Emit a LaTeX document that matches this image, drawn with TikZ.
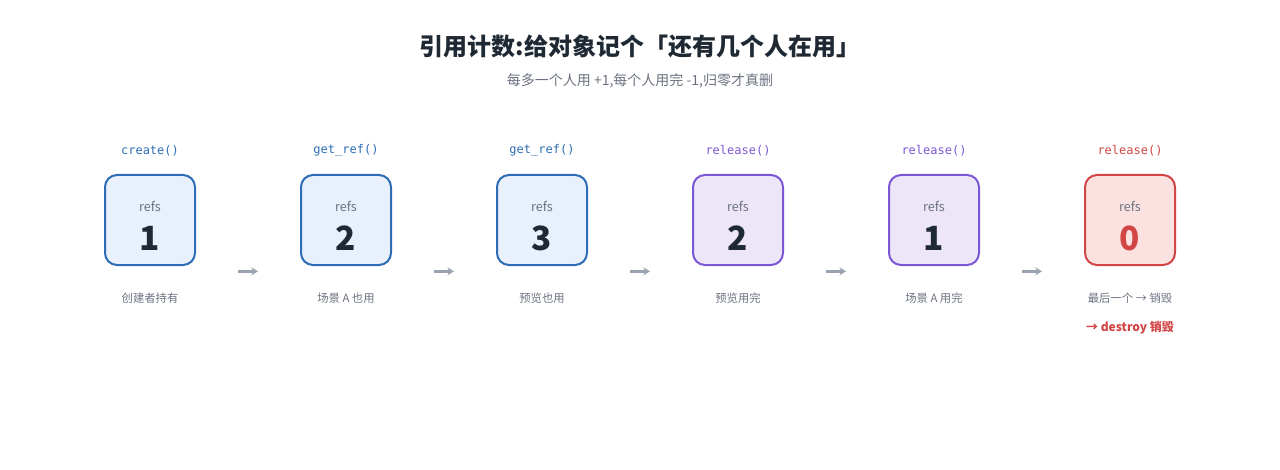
\documentclass[tikz,border=0pt]{standalone}
\usepackage{fontspec}
\setmainfont{Noto Sans CJK SC}
\setmonofont{DejaVu Sans Mono}
\usepackage{tikz}
\usetikzlibrary{arrows.meta, positioning, calc}
\definecolor{InkDark}{HTML}{1F2933}
\definecolor{InkGray}{HTML}{6B7280}
\definecolor{ArrowGray}{HTML}{9AA3AF}
\definecolor{RefBlue}{HTML}{2C6DB5}
\definecolor{RefBlueFill}{HTML}{E8F1FB}
\definecolor{RefPurple}{HTML}{7B57D6}
\definecolor{RefPurpleFill}{HTML}{EDE6F9}
\definecolor{RefRed}{HTML}{D24545}
\definecolor{RefRedFill}{HTML}{FCE1E1}
\tikzset{
  countbox/.style={rectangle, rounded corners=9pt, line width=1.5pt, minimum width=67.5pt, minimum height=67.5pt},
  bluebox/.style={countbox, draw=RefBlue, fill=RefBlueFill},
  purplebox/.style={countbox, draw=RefPurple, fill=RefPurpleFill},
  redbox/.style={countbox, draw=RefRed, fill=RefRedFill},
  calllabel/.style={font=\ttfamily\fontsize{9}{11}\selectfont, inner sep=0pt},
  refslabel/.style={font=\fontsize{9.5}{11}\selectfont, text=InkGray, inner sep=0pt},
  countnum/.style={font=\bfseries\fontsize{25}{28}\selectfont, text=InkDark, inner sep=0pt},
  notelabel/.style={font=\fontsize{8.5}{10}\selectfont, text=InkGray, inner sep=0pt},
  flow/.style={-{Stealth[length=5pt, width=6pt]}, line width=2pt, ArrowGray}
}

\begin{document}
\begin{tikzpicture}[x=0.75pt, y=-0.75pt]
  \useasboundingbox (0,0) rectangle (1280,470);

  \node[font=\bfseries\fontsize{18}{22}\selectfont, text=InkDark] (title) at (640,46) {引用计数:给对象记个「还有几个人在用」};
  \node[font=\fontsize{10.5}{13}\selectfont, text=InkGray] (subtitle) at (640,81) {每多一个人用 +1,每个人用完 -1,归零才真删};

  % the six states
  \node[bluebox] (s1) at (150,220) {};
  \node[bluebox, right=78pt of s1] (s2) {};
  \node[bluebox, right=78pt of s2] (s3) {};
  \node[purplebox, right=78pt of s3] (s4) {};
  \node[purplebox, right=78pt of s4] (s5) {};
  \node[redbox, right=78pt of s5] (s6) {};

  \node[calllabel, text=RefBlue, above=13pt of s1] (c1) {create()};
  \node[calllabel, text=RefBlue, above=13pt of s2] (c2) {get\_ref()};
  \node[calllabel, text=RefBlue, above=13pt of s3] (c3) {get\_ref()};
  \node[calllabel, text=RefPurple, above=13pt of s4] (c4) {release()};
  \node[calllabel, text=RefPurple, above=13pt of s5] (c5) {release()};
  \node[calllabel, text=RefRed, above=13pt of s6] (c6) {release()};

  \node[refslabel] (r1) at ([yshift=10pt]s1.center) {refs};
  \node[refslabel] (r2) at ([yshift=10pt]s2.center) {refs};
  \node[refslabel] (r3) at ([yshift=10pt]s3.center) {refs};
  \node[refslabel] (r4) at ([yshift=10pt]s4.center) {refs};
  \node[refslabel] (r5) at ([yshift=10pt]s5.center) {refs};
  \node[refslabel] (r6) at ([yshift=10pt]s6.center) {refs};

  \node[countnum] (n1) at ([yshift=-14pt]s1.center) {1};
  \node[countnum] (n2) at ([yshift=-14pt]s2.center) {2};
  \node[countnum] (n3) at ([yshift=-14pt]s3.center) {3};
  \node[countnum] (n4) at ([yshift=-14pt]s4.center) {2};
  \node[countnum] (n5) at ([yshift=-14pt]s5.center) {1};
  \node[countnum, text=RefRed] (n6) at ([yshift=-14pt]s6.center) {0};

  \node[notelabel, below=20pt of s1] (d1) {创建者持有};
  \node[notelabel, below=20pt of s2] (d2) {场景 A 也用};
  \node[notelabel, below=20pt of s3] (d3) {预览也用};
  \node[notelabel, below=20pt of s4] (d4) {预览用完};
  \node[notelabel, below=20pt of s5] (d5) {场景 A 用完};
  \node[notelabel, below=20pt of s6] (d6) {最后一个 → 销毁};
  \node[notelabel, font=\bfseries\fontsize{9}{11}\selectfont, text=RefRed, below=13pt of d6] (kill) {→ destroy 销毁};

  % transitions
  \draw[flow] ([xshift=31.5pt, yshift=-4pt]s1.south east) -- ([xshift=-31.5pt, yshift=-4pt]s2.south west);
  \draw[flow] ([xshift=31.5pt, yshift=-4pt]s2.south east) -- ([xshift=-31.5pt, yshift=-4pt]s3.south west);
  \draw[flow] ([xshift=31.5pt, yshift=-4pt]s3.south east) -- ([xshift=-31.5pt, yshift=-4pt]s4.south west);
  \draw[flow] ([xshift=31.5pt, yshift=-4pt]s4.south east) -- ([xshift=-31.5pt, yshift=-4pt]s5.south west);
  \draw[flow] ([xshift=31.5pt, yshift=-4pt]s5.south east) -- ([xshift=-31.5pt, yshift=-4pt]s6.south west);
\end{tikzpicture}
\end{document}
